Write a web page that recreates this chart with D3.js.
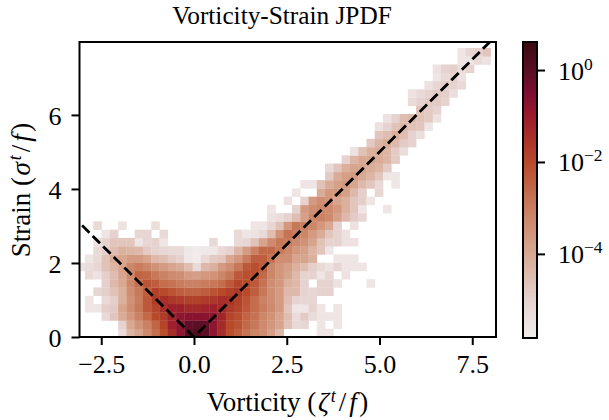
<!DOCTYPE html>
<html>
<head>
<meta charset="utf-8">
<script src="https://cdn.jsdelivr.net/npm/d3@7"></script>
<style>
body { margin: 0; background: white; }
text { font-family: "Liberation Serif", serif; fill: #000; }
</style>
</head>
<body>
<svg id="chart" width="609" height="420"></svg>
<script>
// log10 of the jpdf. one row per strain bin, bottom up:
// [first vorticity bin, values...], null = empty bin
var jpdfRows = [
  [5,-5.3,-4.3,-3.9,-3.3,-2.7,-2.1,-1.4,-0.8,0,0.2,0,-0.8,-1.4,-2.1,-2.4,-2.8,-3.2,-3.4,-3.8,-4.4,null,null,null,null,-5.6,-5.6],
  [5,-5,-4,-3.5,-3.1,-2.5,-1.9,-1.1,-0.8,-0.1,0,-0.1,-0.8,-1.3,-2,-2.2,-2.6,-2.9,-3.3,-3.6,-3.9,-4.6,-5.2,-5.1,null,-5.6,null,-5.6],
  [3,-5.2,-4.7,-4.1,-3.6,-3.1,-2.6,-2,-1.7,-1.2,-0.8,-0.7,-0.7,-0.7,-0.8,-1.2,-1.9,-2.1,-2.5,-2.8,-3.2,-3.5,-3.9,-4.5,-5.3,-4.8,-5.3,-5.6,-5.6,-5.6],
  [1,-5.6,-5.6,-4.9,-4.8,-3.9,-3.4,-2.9,-2.3,-1.9,-1.4,-1.1,-1.1,-1.3,-1.3,-1.2,-1.1,-1.3,-1.7,-1.9,-2.3,-2.7,-3,-3.3,-3.7,-4.7,-5.6,-5.6,-5,-5.6,null,-5.6],
  [1,-5.6,null,-5.2,-4.9,-4.2,-3.5,-3,-2.3,-1.7,-1.4,-1.6,-1.7,-1.8,-1.8,-1.7,-1.6,-1.4,-1.5,-1.8,-2.2,-2.7,-3.1,-3.4,-3.7,-4.5,-5,-5.1,-5.1],
  [2,-5.1,-4.9,-4.6,-4.2,-3.4,-2.9,-2.4,-1.8,-2,-2.2,-2.4,-2.5,-2.5,-2.4,-2.2,-2,-1.8,-1.6,-2,-2.4,-2.9,-3.4,-3.7,-4.4,-4.4,-5,-5.1,-5,-5],
  [3,-4.9,-4.4,-4,-3.2,-2.7,-2.2,-2.4,-2.7,-2.8,-3,-3.1,-3.1,-3,-2.9,-2.7,-2.3,-1.9,-2,-2.3,-2.8,-3.4,-3.6,-4.2,-4.4,-5,null,-5,-5,-5.5,null,null,null,-5.6],
  [1,-5.2,-5.5,-4.9,-4.5,-3.9,-3.3,-2.5,-2.6,-2.9,-3.1,-3.3,-3.4,-3.7,-3.8,-3.6,-3.5,-3.2,-2.9,-2.3,-2.1,-2.1,-2.6,-3.2,-3.6,-3.9,-4.4,-5,-5,-5.6,-5.1,null,-5.5],
  [0,-5.5,-5.3,-5.1,-4.6,-4.3,-3.9,-3.2,-3,-3.2,-3.5,-3.7,-3.9,-4.1,-4.5,-5.2,-4.4,-4.2,-3.7,-3.4,-2.9,-2.3,-2.1,-2.4,-3.2,-3.6,-3.8,-4.2,-4.5,-4.9,-5.2,-5.5,-5.1,-5.6,-5.6,-5.6],
  [1,-5.6,-5.2,-4.6,-4.1,-3.9,-3.7,-3.7,-3.9,-4.4,-4.5,-4.8,-5,-5.7,-5.8,-5.2,-4.8,-4.7,-4,-3.6,-3,-2.4,-2.4,-2.8,-3.4,-3.4,-3.9,-3.9,-4.2,null,null,-5.6,-5.6,-5.6],
  [2,-5.2,-4.9,-4.5,-4.2,-4.3,-4.4,-4.8,-5,-5.1,-5.2,-5.2,-5.7,-5.8,-5.7,-5.7,-5.2,-5,-4.3,-3.7,-3.1,-2.6,-2.6,-2.9,-3.2,-3.6,-3.8,-4.3,-4.7,-5.6],
  [2,-5.5,-5,-4.7,-4.7,-4.7,-5.6,-5.1,-5,-5.6,null,null,null,null,null,-5.2,null,null,-5.2,-5.1,-4.6,-3.9,-3.3,-2.9,-3,-3.3,-3.5,-3.9,-4.6,-5,-5,-5.5,-5.5],
  [3,-5.6,-5,null,null,-5.1,-5.1,null,-5.2,null,null,null,null,null,null,null,null,-5.2,-5.6,-5.5,-5.2,-4.5,-3.5,-2.8,-3,-3.2,-3.7,-4.1,-4.7,-5,-5.5],
  [2,-5.2,null,null,-5.5,null,null,null,-5.4,null,null,null,null,null,null,null,null,null,null,null,-5.6,-5.6,-5.1,-4.6,-3.6,-2.9,-3,-3.2,-3.6,-4,-5,null,-5.5],
  [23,-5.5,-5.3,-5,-4.5,-3.8,-3.2,-3.1,-3.3,-3.8,-4.4,-4.8,-5.1],
  [23,-5.6,null,null,-5,-3.7,-3.4,-3.2,-3.3,-3.6,-4.2,-4.7,-5.6,null,null,-5.6],
  [25,-5.5,null,-5,-3.7,-3.4,-3.5,-3.9,-4.2,-4.7,-4.9,-5.6],
  [26,-5.6,null,null,-4.1,-3.6,-3.5,-3.8,-4.4,-4.9,null,-5.1],
  [27,-5.6,-5.6,-4.6,-4.1,-3.8,-3.6,-3.9,-4.4,-4.7,-5.2,null,-5.6],
  [30,-4.8,-4.1,-3.8,-3.7,-4,-4.3,-4.7,-5.6,-5.6],
  [30,-5.2,-4.7,-4.2,-3.9,-3.9,-4.1,-4.3,-4.8],
  [32,-5,-4.3,-4,-3.9,-4.1,-4.3,-4.8],
  [33,-5.5,-4.6,-4.2,-4.1,-4.3,-4.8,-5.4],
  [35,-4.8,-4.3,-4.1,-4.4,-4.8,-5],
  [36,-4.7,-4.5,-4.2,-4.5,-5,-5.4],
  [36,-5.5,-5,-4.6,-4.4,-4.6,-4.7,-5.6],
  [37,-5.5,-5,-4.5,-4.4,-4.6,-4.8,-5.5],
  [41,-4.6,-4.8,-5],
  [40,-5.2,-5,-4.8,-4.8,-5],
  [40,-5.5,-5.2,-5,-4.8,-4.9,-5.4],
  [42,-5.5,-5.1,-4.9,-5,-5.2],
  [43,-5.6,-5.2,-5,-5.5],
  [43,-5.5,-5,-4.9,-5.4,-5],
  [46,-5.6,-5.6,-5.2,-5.5],
  [46,-5.6,-5.1,-5,-4.7]
];
var vortBinStart = -3.16, strainBinStart = 0, binWidth = 0.2231;

var lineVort = [-3.3, 0, 8.3];
var lineStrain = [3.3, 0, 8.3];

var colorLogs = [-5.83, -5, -4, -3, -2, -1, -0.5, 0, 0.61];
var colorHex = ["#f1ecec", "#e6d3d0", "#d8a892", "#c97d5e", "#b84a2a", "#9a1b2c", "#7d0f33", "#5a0f25", "#3c0912"];

var xTicks = [-2.5, 0, 2.5, 5, 7.5];
var yTicks = [0, 2, 4, 6];
var cbarTicks = [1e-4, 1e-2, 1];

var svg = d3.select("#chart");

var xScale = d3.scaleLinear().domain([-3.086, 8.14]).range([79.5, 496]);
var yScale = d3.scaleLinear().domain([0, 7.97]).range([337, 42]);
var colorScale = d3.scaleLinear().domain(colorLogs).range(colorHex);
var cbarScale = d3.scaleLog().domain([Math.pow(10, -5.83), Math.pow(10, 0.61)]).range([338, 42]);

svg.append("clipPath").attr("id", "plot-clip")
    .append("rect")
    .attr("x", 79.5).attr("y", 42)
    .attr("width", 496 - 79.5).attr("height", 337 - 42);

var cells = [];
jpdfRows.forEach(function (row, r) {
    row.slice(1).forEach(function (v, i) {
        if (v !== null) cells.push({ col: row[0] + i, row: r, value: v });
    });
});

var plot = svg.append("g").attr("clip-path", "url(#plot-clip)");

plot.selectAll("rect")
    .data(cells)
    .join("rect")
    .attr("x", function (d) { return xScale(vortBinStart + d.col * binWidth); })
    .attr("y", function (d) { return yScale(strainBinStart + (d.row + 1) * binWidth); })
    .attr("width", xScale(binWidth) - xScale(0) + 0.3)
    .attr("height", yScale(0) - yScale(binWidth) + 0.3)
    .attr("fill", function (d) { return colorScale(d.value); });

var lineMaker = d3.line()
    .x(function (d, i) { return xScale(lineVort[i]); })
    .y(function (d) { return yScale(d); });

plot.append("path")
    .attr("d", lineMaker(lineStrain))
    .attr("fill", "none")
    .attr("stroke", "black")
    .attr("stroke-width", 2.8)
    .attr("stroke-dasharray", "10.4,4.5");

// spines
svg.append("rect")
    .attr("x", 79.5).attr("y", 42)
    .attr("width", 496 - 79.5).attr("height", 337 - 42)
    .attr("fill", "none")
    .attr("stroke", "black")
    .attr("stroke-width", 2);

function styleAxis(g) {
    g.select(".domain").remove();
    g.selectAll(".tick line").attr("stroke", "black").attr("stroke-width", 2);
    g.selectAll(".tick text").attr("font-size", 26).attr("font-family", "Liberation Serif");
}

var xAxis = d3.axisBottom(xScale).tickValues(xTicks).tickSize(8).tickPadding(10)
    .tickFormat(function (d) { return d3.format(".1f")(d).replace("-", "\u2212"); });
svg.append("g").attr("transform", "translate(0,337)").call(xAxis).call(styleAxis);

var yAxis = d3.axisLeft(yScale).tickValues(yTicks).tickSize(8).tickPadding(10)
    .tickFormat(d3.format("d"));
svg.append("g").attr("transform", "translate(79.5,0)").call(yAxis).call(styleAxis)
    .selectAll(".tick text").attr("dy", "0.38em");

// colour bar
var cbarLogs = d3.range(0, 297).map(function (i) { return cbarScale.invert(338 - i); });
svg.append("g").selectAll("rect")
    .data(cbarLogs)
    .join("rect")
    .attr("x", 523).attr("width", 14)
    .attr("y", function (d) { return cbarScale(d) - 1; })
    .attr("height", 1.5)
    .attr("fill", function (d) { return colorScale(Math.log10(d)); });
svg.append("rect")
    .attr("x", 523).attr("y", 42).attr("width", 14).attr("height", 296)
    .attr("fill", "none").attr("stroke", "black").attr("stroke-width", 2);

var cbarAxis = d3.axisRight(cbarScale).tickValues(cbarTicks).tickSize(8).tickPadding(13)
    .tickFormat(function () { return ""; });
var cbarG = svg.append("g").attr("transform", "translate(537,0)").call(cbarAxis).call(styleAxis);
cbarG.selectAll(".tick text").each(function (d) {
    var t = d3.select(this).attr("dy", null).attr("y", 9);
    t.append("tspan").text("10");
    t.append("tspan").attr("dy", -10).attr("font-size", 17.5)
        .text(String(Math.round(Math.log10(d))).replace("-", "\u2212"));
});

// titles
svg.append("text")
    .attr("x", 282).attr("y", 24)
    .attr("text-anchor", "middle").attr("font-size", 25.3)
    .text("Vorticity-Strain JPDF");

// label with math part: name (greek^t / f)
function mathLabel(sel, name, greek) {
    sel.append("tspan").text(name + " (");
    sel.append("tspan").attr("font-style", "italic").attr("dx", 1.5).text(greek);
    sel.append("tspan").attr("font-style", "italic").attr("font-size", 18).attr("dx", 2).attr("dy", -9).text("t");
    sel.append("tspan").attr("dy", 9).attr("dx", 3).text("/");
    sel.append("tspan").attr("font-style", "italic").attr("dx", 3).text("f");
    sel.append("tspan").attr("dx", 2.5).text(")");
}

svg.append("text")
    .attr("x", 287.5).attr("y", 411)
    .attr("text-anchor", "middle").attr("font-size", 27)
    .call(mathLabel, "Vorticity", "\u03b6");

svg.append("text")
    .attr("transform", "translate(30,190)rotate(-90)")
    .attr("text-anchor", "middle").attr("font-size", 27)
    .call(mathLabel, "Strain", "\u03c3");
</script>
</body>
</html>
